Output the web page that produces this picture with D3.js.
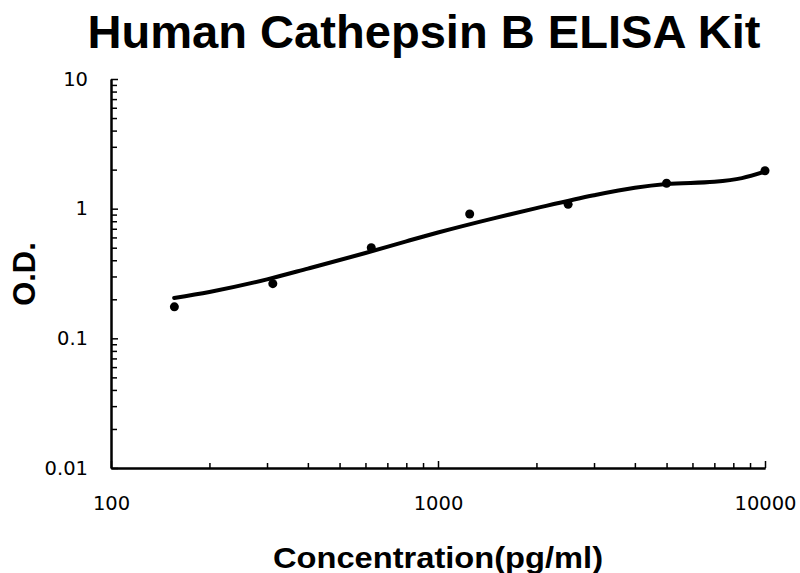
<!DOCTYPE html>
<html><head><meta charset="utf-8">
<script src="https://cdn.jsdelivr.net/npm/d3@7/dist/d3.min.js"></script>
<style>body{margin:0;background:#fff}svg{display:block}</style>
</head><body>
<svg id="c" width="800" height="573"></svg>
<script>
const title = "Human Cathepsin B ELISA Kit";
const xLabel = "Concentration(pg/ml)";
const yLabel = "O.D.";
const concentrations = [156.25, 312.5, 625, 1250, 2500, 5000, 10000];
const odValues = [0.175, 0.264, 0.50, 0.91, 1.08, 1.57, 1.96];
const fitX = [156, 200, 300, 400, 600, 800, 1000, 1500, 2000, 3000, 4000, 5000, 7000, 8500, 10000];
const fitY = [0.205, 0.228, 0.285, 0.345, 0.455, 0.56, 0.655, 0.85, 1.01, 1.27, 1.45, 1.55, 1.61, 1.72, 1.93];
const xMajorTicks = [100, 1000, 10000];
const yMajorTicks = [0.01, 0.1, 1, 10];
const xTickLabels = ["100", "1000", "10000"];
const yTickLabels = ["0.01", "0.1", "1", "10"];

const svg = d3.select("#c");
const x = d3.scaleLog().domain([100, 10000]).range([111, 765]);
const y = d3.scaleLog().domain([0.01, 10]).range([468, 79]);

function minors(lo, hi) {
  const out = [];
  for (let d = lo; d < hi; d *= 10) for (let k = 2; k <= 9; k++) out.push(d * k);
  return out;
}

// y axis
const gy = svg.append("g").attr("transform", "translate(111,0)");
gy.call(d3.axisLeft(y).tickValues(minors(0.01, 10)).tickSizeInner(-6).tickSizeOuter(0).tickFormat(""));
gy.append("g").call(d3.axisLeft(y).tickValues(yMajorTicks).tickSizeInner(-7).tickSizeOuter(0).tickPadding(23)
  .tickFormat((d, i) => yTickLabels[i]));
gy.selectAll("path.domain").attr("stroke", "#000").attr("stroke-width", 2);
gy.selectAll("line").attr("stroke", "#000").attr("stroke-width", 1.5);
gy.selectAll("text").attr("font-family", "DejaVu Sans, Verdana, sans-serif").attr("font-size", 19.5).attr("fill", "#000");

// x axis
const gx = svg.append("g").attr("transform", "translate(0,468)");
gx.call(d3.axisBottom(x).tickValues(minors(100, 10000)).tickSizeInner(-5).tickSizeOuter(0).tickFormat(""));
gx.append("g").call(d3.axisBottom(x).tickValues(xMajorTicks).tickSizeInner(-7).tickSizeOuter(0).tickPadding(28)
  .tickFormat((d, i) => xTickLabels[i]));
gx.selectAll("path.domain").attr("stroke", "#000").attr("stroke-width", 2);
gx.selectAll("line").attr("stroke", "#000").attr("stroke-width", 1.5);
gx.selectAll("text").attr("font-family", "DejaVu Sans, Verdana, sans-serif").attr("font-size", 19.5).attr("fill", "#000");

// fitted curve
const line = d3.line().x(d => x(d[0])).y(d => y(d[1])).curve(d3.curveMonotoneX);
svg.append("path").datum(fitX.map((v, i) => [v, fitY[i]]))
  .attr("d", line).attr("fill", "none").attr("stroke", "#000").attr("stroke-width", 4)
  .attr("stroke-linecap", "round").attr("stroke-linejoin", "round");

// points
svg.selectAll("circle.pt").data(concentrations).enter().append("circle")
  .attr("class", "pt").attr("cx", d => x(d)).attr("cy", (d, i) => y(odValues[i])).attr("r", 4.5).attr("fill", "#000");

// title
svg.append("text").attr("x", 424).attr("y", 48).attr("text-anchor", "middle")
  .attr("font-family", "Liberation Sans, Arial, sans-serif").attr("font-weight", "bold").attr("font-size", 47)
  .attr("textLength", 673).attr("lengthAdjust", "spacingAndGlyphs").text(title);

// x label
svg.append("text").attr("x", 438).attr("y", 568).attr("text-anchor", "middle")
  .attr("font-family", "Liberation Sans, Arial, sans-serif").attr("font-weight", "bold").attr("font-size", 30)
  .attr("textLength", 330).attr("lengthAdjust", "spacingAndGlyphs").text(xLabel);

// y label
svg.append("text").attr("transform", "translate(35,274) rotate(-90)").attr("text-anchor", "middle")
  .attr("font-family", "Liberation Sans, Arial, sans-serif").attr("font-weight", "bold").attr("font-size", 31)
  .text(yLabel);
</script>
</body></html>
